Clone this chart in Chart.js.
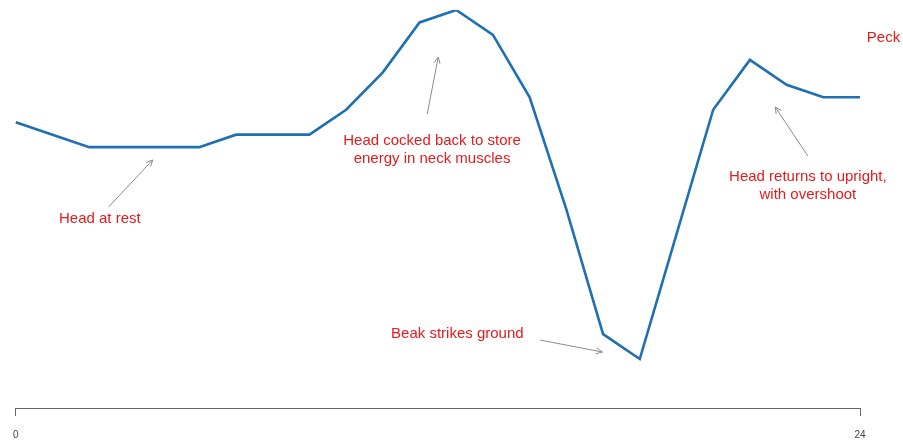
<!DOCTYPE html>
<html>
<head>
<meta charset="utf-8">
<script src="https://cdn.jsdelivr.net/npm/chart.js@4/dist/chart.umd.min.js"></script>
<style>
html,body{margin:0;padding:0;background:#fff;}
#wrap{width:903px;height:441px;position:relative;}
</style>
</head>
<body>
<div id="wrap"><canvas id="c" width="903" height="441"></canvas></div>
<script>
// ---- data ----
const timeSteps = ['0','','','','','','','','','','','','','','','','','','','','','','','24'];
const headHeight = [19,18,17,17,17,17,18,18,18,20,23,27,28,26,21,12,2,0,10,20,24,22,21,21];

// annotation texts and their anchor (data units)
const noteTexts = [
  ['Head at rest'],
  ['Head cocked back to store', 'energy in neck muscles'],
  ['Beak strikes ground'],
  ['Head returns to upright,', 'with overshoot'],
  ['Peck']
];
const noteX = [2.29, 11.34, 12.03, 21.58, 23.64];
const noteY = [10.91, 17.17, 1.68, 14.28, 25.43];
// arrows: from (x0,y0) to (x1,y1), data units
const arrowX0 = [2.53, 11.21, 14.29, 21.58];
const arrowY0 = [12.20, 19.66, 1.52, 16.29];
const arrowX1 = [3.73, 11.51, 15.98, 20.69];
const arrowY1 = [15.97, 24.23, 0.56, 20.22];

const annotPlugin = {
  id: 'annot',
  afterDatasetsDraw(chart) {
    const ctx = chart.ctx, xs = chart.scales.x, ys = chart.scales.y;
    ctx.save();
    ctx.strokeStyle = '#8c8c8c';
    ctx.lineWidth = 1;
    for (let i = 0; i < arrowX0.length; i++) {
      const x0 = xs.getPixelForValue(arrowX0[i]), y0 = ys.getPixelForValue(arrowY0[i]);
      const x1 = xs.getPixelForValue(arrowX1[i]), y1 = ys.getPixelForValue(arrowY1[i]);
      ctx.beginPath(); ctx.moveTo(x0, y0); ctx.lineTo(x1, y1); ctx.stroke();
      const a = Math.atan2(y1 - y0, x1 - x0), L = 7, w = Math.PI / 7;
      ctx.beginPath();
      ctx.moveTo(x1 - L * Math.cos(a - w), y1 - L * Math.sin(a - w));
      ctx.lineTo(x1, y1);
      ctx.lineTo(x1 - L * Math.cos(a + w), y1 - L * Math.sin(a + w));
      ctx.stroke();
    }
    ctx.fillStyle = '#e41a1c';
    ctx.font = '15px "Liberation Sans", Arial, sans-serif';
    ctx.textAlign = 'center';
    ctx.textBaseline = 'alphabetic';
    for (let i = 0; i < noteTexts.length; i++) {
      const px = xs.getPixelForValue(noteX[i]), py = ys.getPixelForValue(noteY[i]);
      noteTexts[i].forEach((t, k) => ctx.fillText(t, px, py + k * 18));
    }
    ctx.restore();
  }
};

new Chart(document.getElementById('c'), {
  type: 'line',
  data: {
    labels: timeSteps,
    datasets: [{
      data: headHeight,
      borderColor: '#1f6fb5',
      borderWidth: 2.6,
      pointRadius: 0,
      tension: 0,
      fill: false
    }]
  },
  options: {
    responsive: false,
    animation: false,
    layout: { padding: { left: 13, right: 43, top: 10, bottom: 0 } },
    plugins: { legend: { display: false }, tooltip: { enabled: false } },
    scales: {
      x: {
        type: 'category',
        offset: false,
        afterFit: (s) => { s.height = 33; },
        border: { display: true, color: '#666', width: 1 },
        grid: {
          display: true,
          drawOnChartArea: false,
          drawTicks: true,
          tickLength: 8,
          color: (c) => (c.tick && c.tick.label !== '') ? '#666' : 'rgba(0,0,0,0)'
        },
        ticks: {
          autoSkip: false,
          maxRotation: 0,
          padding: 13,
          color: '#444',
          font: { family: '"Liberation Sans", Arial, sans-serif', size: 10 }
        }
      },
      y: {
        display: false,
        min: -3.93,
        max: 28
      }
    }
  },
  plugins: [annotPlugin]
});
</script>
</body>
</html>
